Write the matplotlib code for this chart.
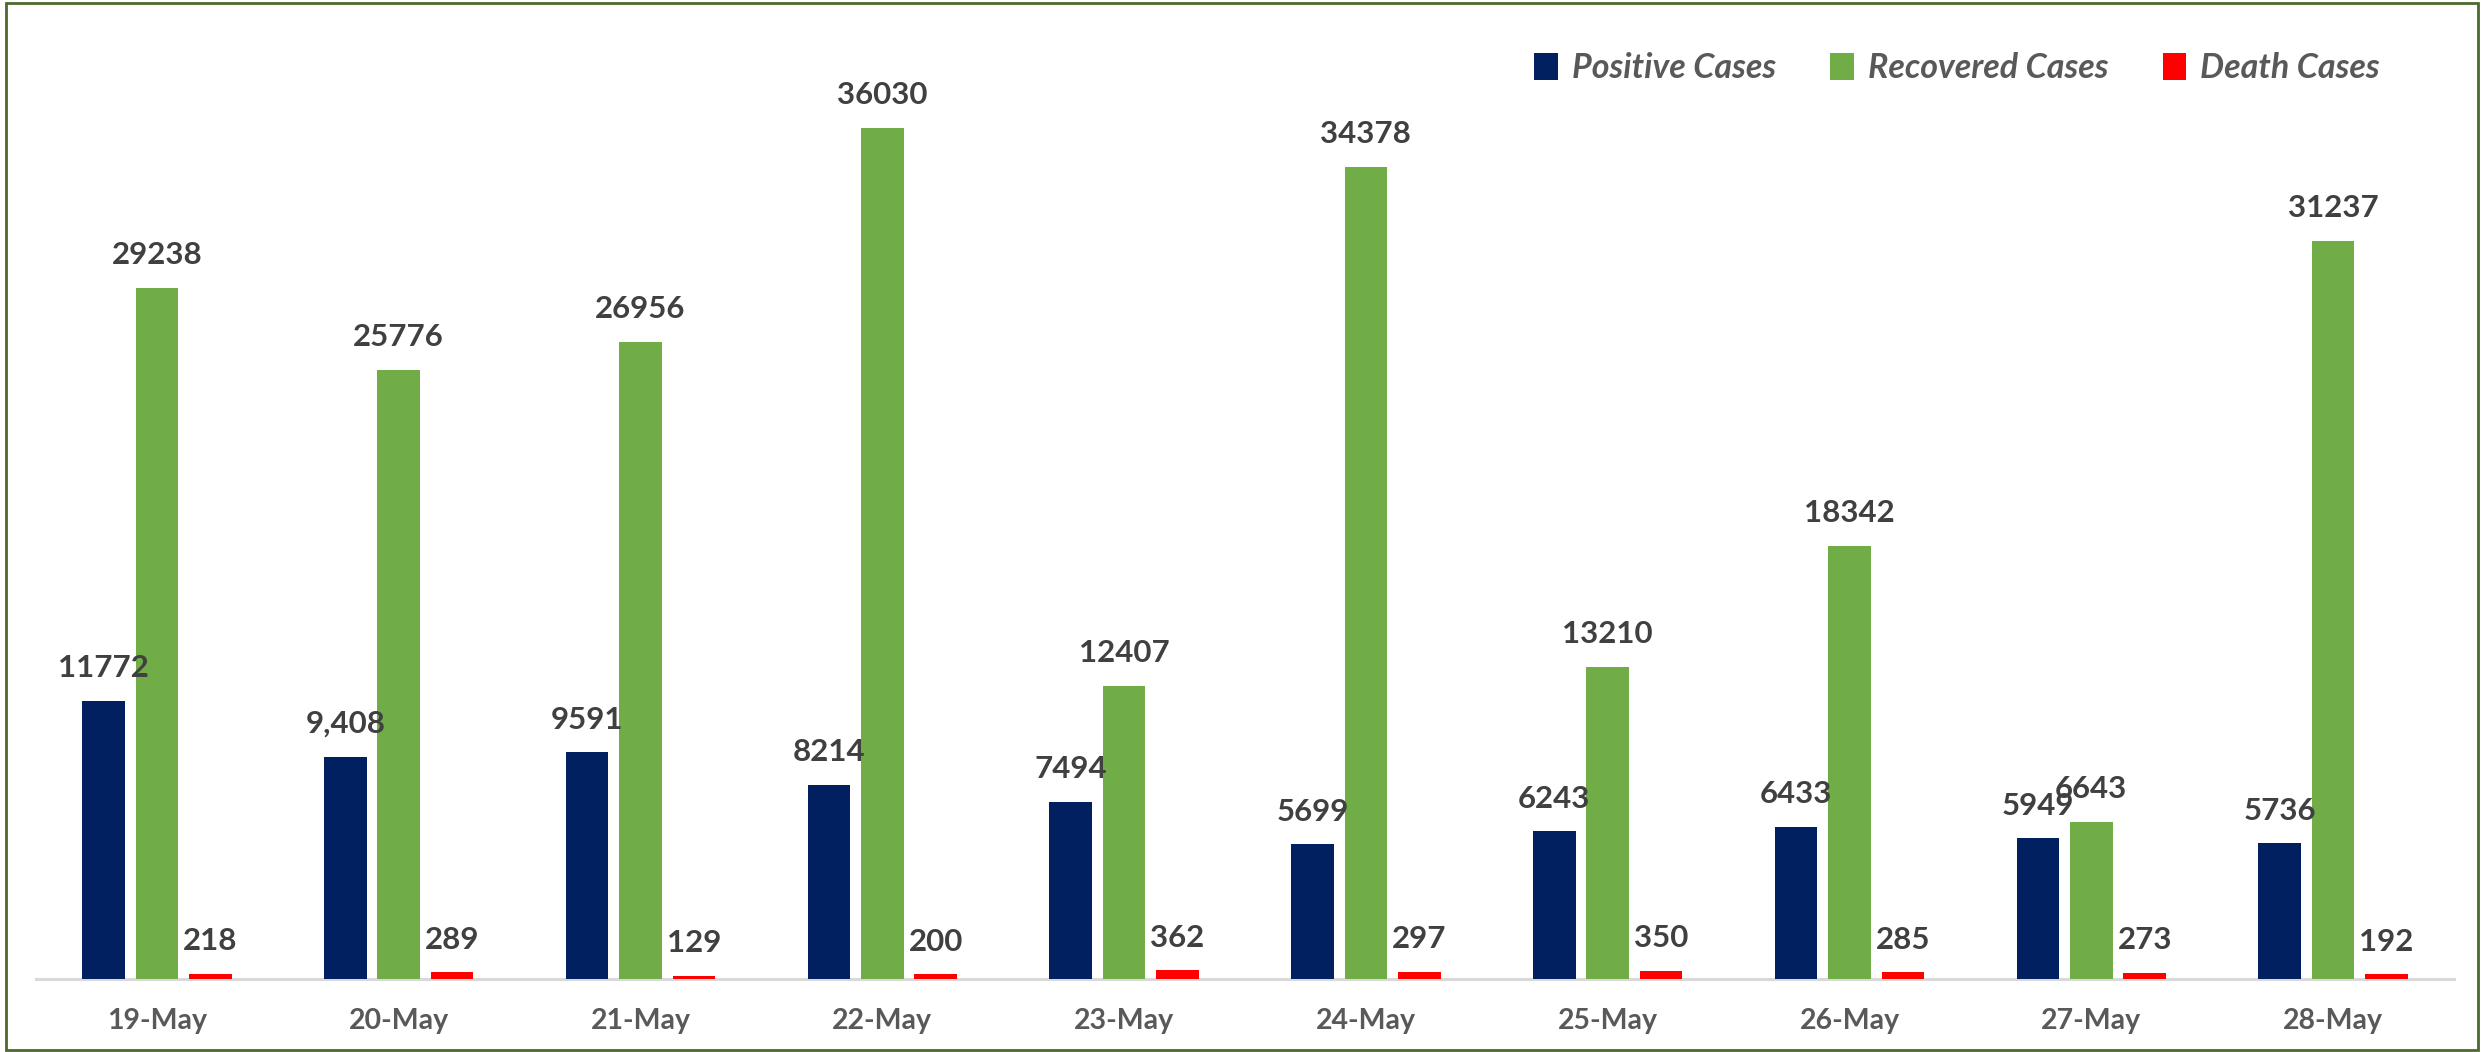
import matplotlib
matplotlib.use("Agg")
import matplotlib.pyplot as plt
import matplotlib.patches as mpatches
import numpy as np

dates = ["19-May", "20-May", "21-May", "22-May", "23-May",
         "24-May", "25-May", "26-May", "27-May", "28-May"]
positive = [11772, 9408, 9591, 8214, 7494, 5699, 6243, 6433, 5949, 5736]
recovered = [29238, 25776, 26956, 36030, 12407, 34378, 13210, 18342, 6643, 31237]
death = [218, 289, 129, 200, 362, 297, 350, 285, 273, 192]
positive_labels = ["11772", "9,408", "9591", "8214", "7494", "5699", "6243", "6433", "5949", "5736"]
recovered_labels = [str(v) for v in recovered]
death_labels = [str(v) for v in death]
series_names = ["Positive Cases", "Recovered Cases", "Death Cases"]

W, H = 2483, 1052
DPI = 100
fig = plt.figure(figsize=(W / DPI, H / DPI), dpi=DPI)
fig.patch.set_facecolor("white")

ax_left = 36 / W
ax_right = 2454 / W
ax_bottom = 1 - 979 / H
ax_top = 1 - 81 / H
ax = fig.add_axes([ax_left, ax_bottom, ax_right - ax_left, ax_top - ax_bottom])

FONT = "Lato"
x = np.arange(len(dates))
bw = 0.176
off = 0.221
colors = ["#002060", "#70AD47", "#FF0000"]
all_vals = [positive, recovered, death]
all_labels = [positive_labels, recovered_labels, death_labels]

for i, (vals, labs, col, name) in enumerate(zip(all_vals, all_labels, colors, series_names)):
    pos = x + (i - 1) * off
    ax.bar(pos, vals, width=bw, color=col, label=name, zorder=2)
    for xp, v, lab in zip(pos, vals, labs):
        ax.annotate(lab, (xp, v), xytext=(0, 17), textcoords="offset points",
                    ha="center", va="baseline", fontsize=22.5, fontweight="bold",
                    color="#404040", family=FONT)

ax.set_xlim(-0.5, len(dates) - 0.5)
ax.set_ylim(0, 38000)
ax.set_xticks(x)
ax.set_xticklabels(dates, fontsize=20.5, fontweight="bold", color="#595959", family=FONT)
ax.tick_params(axis="x", length=0, pad=21)
ax.set_yticks([])
for s in ["top", "right", "left"]:
    ax.spines[s].set_visible(False)
ax.spines["bottom"].set_color("#D9D9D9")
ax.spines["bottom"].set_linewidth(2.2)
ax.spines["bottom"].set_zorder(1)
ax.patch.set_alpha(0)

leg = fig.legend(loc="center", bbox_to_anchor=(1957 / W, 1 - 68 / H), ncol=3,
                 frameon=False, handlelength=0.7, handleheight=0.85,
                 handletextpad=0.4, columnspacing=1.6,
                 prop={"family": FONT, "size": 24.5, "weight": "bold", "style": "italic"})
for t in leg.get_texts():
    t.set_color("#595959")

frame = mpatches.Rectangle((5.5 / W, 2.5 / H), (2478 - 5.5) / W, (1049 - 2.5) / H,
                           transform=fig.transFigure, fill=False,
                           edgecolor="#4B6A2E", linewidth=2.0, zorder=10)
fig.patches.append(frame)

fig.savefig("out.png", dpi=DPI, facecolor="white")
